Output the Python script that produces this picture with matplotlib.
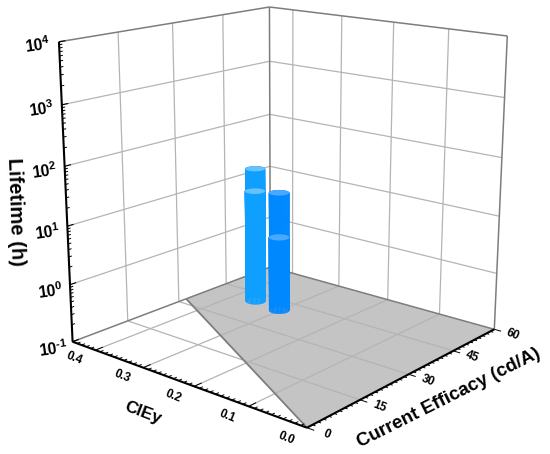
import numpy as np
import matplotlib
matplotlib.use('Agg')
from matplotlib import pyplot as plt
from mpl_toolkits.mplot3d import proj3d
from mpl_toolkits.mplot3d.art3d import Poly3DCollection

# cylinders, back to front on screen
bar_eff = [48.0, 41.0, 46.25, 40.0]
bar_ciey = [0.404, 0.358, 0.342, 0.302]
bar_life = [17.4, 11.0, 8.9, 2.2]
bar_colors = ['#0f9fff', '#0f9fff', '#0088ff', '#0088ff']
bar_tops = ['#66c2ff', '#66c2ff', '#4aa8ff', '#4aa8ff']

eff_ticks = [0, 15, 30, 45, 60]
ciey_ticks = [0.0, 0.1, 0.2, 0.3, 0.4]
life_exps = [-1, 0, 1, 2, 3, 4]

# gray region on the floor
region_eff = [0.0, 60.0, 60.0, 32.25]
region_ciey = [0.0, 0.0, 0.45, 0.45]

EFF_MAX = 60.0
CIEY_MAX = 0.45
GRID = '#b4b4b4'
EDGE = '#7d7d7d'

plt.rcParams['font.family'] = ['Liberation Sans', 'DejaVu Sans']
plt.rcParams['font.weight'] = 'bold'
plt.rcParams['mathtext.fontset'] = 'custom'
plt.rcParams['mathtext.bf'] = 'Liberation Sans:bold'
plt.rcParams['mathtext.rm'] = 'Liberation Sans:bold'

fig = plt.figure(figsize=(5.5, 4.54), dpi=100)
# camera fitted against the corners of the box
ax = fig.add_axes([-0.075 - 10.2 / 550, -0.075 + 16.6 / 454, 1.2, 1.2], projection='3d', computed_zorder=False)
ax.set_proj_type('persp', focal_length=0.465)
ax.view_init(elev=15.78, azim=-139.69)
ax.set_box_aspect((0.994, 1, 0.996), zoom=0.951)
ax.set_xlim(0, EFF_MAX)
ax.set_ylim(0, CIEY_MAX)
ax.set_zlim(-1, 4)
ax.set_axis_off()


def line(xs, ys, zs, color=GRID, lw=0.9, z=1):
    ax.plot(xs, ys, zs, color=color, lw=lw, zorder=z, solid_capstyle='butt')


def label(x, y, z, text, size, rot):
    # 3D text ignores rotation, so place it through the projection
    px, py, _ = proj3d.proj_transform(x, y, z, ax.get_proj())
    ax.text2D(px, py, text, transform=ax.transData, fontsize=size, rotation=rot,
              rotation_mode='anchor', ha='center', va='center', zorder=40)


# floor region
verts = [list(zip(region_eff, region_ciey, [-1] * 4))]
ax.add_collection3d(Poly3DCollection(verts, facecolor='#c4c4c4', edgecolor='none', zorder=0))

# grid
for e in eff_ticks[1:-1]:
    line([e, e], [0, CIEY_MAX], [-1, -1])
    line([e, e], [CIEY_MAX, CIEY_MAX], [-1, 4])
for c in ciey_ticks[1:]:
    line([0, EFF_MAX], [c, c], [-1, -1])
    line([EFF_MAX, EFF_MAX], [c, c], [-1, 4])
for x in life_exps[1:-1]:
    line([0, EFF_MAX], [CIEY_MAX, CIEY_MAX], [x, x])
    line([EFF_MAX, EFF_MAX], [0, CIEY_MAX], [x, x])

# box edges
line([0, EFF_MAX], [CIEY_MAX, CIEY_MAX], [4, 4], EDGE, 1.1, 2)
line([EFF_MAX, EFF_MAX], [0, CIEY_MAX], [4, 4], EDGE, 1.1, 2)
line([EFF_MAX, EFF_MAX], [CIEY_MAX, CIEY_MAX], [-1, 4], EDGE, 1.1, 2)
line([EFF_MAX, EFF_MAX], [0, 0], [-1, 4], EDGE, 1.1, 2)
line([0, EFF_MAX], [CIEY_MAX, CIEY_MAX], [-1, -1], EDGE, 1.1, 2)
line([EFF_MAX, EFF_MAX], [0, CIEY_MAX], [-1, -1], EDGE, 1.1, 2)
line([region_eff[3], region_eff[0]], [region_ciey[3], region_ciey[0]], [-1, -1], EDGE, 1.3, 2)

# cylinders
theta = np.linspace(0, 2 * np.pi, 48)
rad_e = 2.15
rad_c = 0.016
for i in range(len(bar_eff)):
    cx = bar_eff[i] + rad_e * np.cos(theta)
    cy = bar_ciey[i] + rad_c * np.sin(theta)
    top = np.log10(bar_life[i])
    X = np.array([cx, cx])
    Y = np.array([cy, cy])
    Z = np.array([np.full_like(theta, -1.0), np.full_like(theta, top)])
    ax.plot_surface(X, Y, Z, color=bar_colors[i], edgecolor=bar_colors[i], shade=False, linewidth=0.2,
                    rstride=1, cstride=1, zorder=5 + 2 * i)
    ax.add_collection3d(Poly3DCollection([list(zip(cx, cy, np.full_like(theta, top)))],
                                         facecolor=bar_tops[i], edgecolor='none', zorder=6 + 2 * i))

# axes lines and ticks
line([0, EFF_MAX], [0, 0], [-1, -1], 'black', 1.5, 30)
line([0, 0], [0, CIEY_MAX], [-1, -1], 'black', 1.5, 30)
line([0, 0], [CIEY_MAX, CIEY_MAX], [-1, 4], 'black', 1.5, 30)
for e in np.arange(0, 60.01, 1.5):
    length = 0.012 if e % 15 == 0 else 0.005
    line([e, e], [0, -length], [-1, -1], 'black', 0.7, 30)
for c in np.arange(0, 0.4501, 0.01):
    major = round(c * 100) % 10 == 0
    line([0, 2.0 if major else 0.9], [c, c], [-1, -1], 'black', 0.7, 30)
for x in life_exps:
    line([0, 1.6], [CIEY_MAX, CIEY_MAX], [x, x], 'black', 0.8, 30)
    if x < 4:
        for m in range(2, 10):
            zm = x + np.log10(m)
            line([0, 0.8], [CIEY_MAX, CIEY_MAX], [zm, zm], 'black', 0.7, 30)

# tick labels
for e in eff_ticks:
    label(e, -0.032, -1, str(e), 8.5, -22)
for c in ciey_ticks:
    label(-5.5, c, -1, '%.1f' % c, 8.5, -22)
for x in life_exps:
    label(-5.0, CIEY_MAX, x, r'$\mathbf{10^{\text{%d}}}$' % x, 11.5, 8)

# axis titles
fig.text(15 / 550, 1 - 212 / 454, 'Lifetime (h)', fontsize=14.5, rotation=-88, ha='center', va='center')
fig.text(143 / 550, 1 - 413 / 454, 'CIEy', fontsize=12.5, rotation=-21, ha='center', va='center')
fig.text(449 / 550, 1 - 398 / 454, 'Current Efficacy (cd/A)', fontsize=13.5, rotation=26.6, ha='center', va='center')

fig.savefig('out.png', dpi=100)
